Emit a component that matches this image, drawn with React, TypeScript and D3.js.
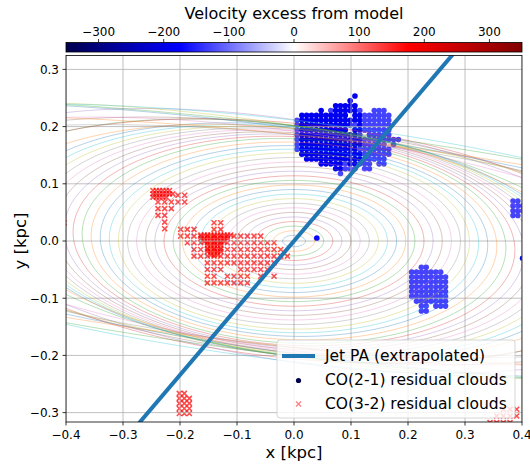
import React from "react";
import * as d3 from "d3";

const W = 530;
const H = 467;
const M = { left: 66, right: 522, top: 55.5, bottom: 422 };

const xTicks = [-0.4, -0.3, -0.2, -0.1, 0, 0.1, 0.2, 0.3, 0.4];
const yTicks = [-0.3, -0.2, -0.1, 0, 0.1, 0.2, 0.3];
const cbarTicks = [-300, -200, -100, 0, 100, 200, 300];

// tilted-ring model: semi-major axis [kpc], axis ratio, position angle [deg]
const ringA = [0.02, 0.036, 0.052, 0.068, 0.084, 0.1, 0.116, 0.132, 0.148, 0.164, 0.18, 0.196, 0.212, 0.228, 0.244, 0.26, 0.276, 0.292, 0.308, 0.324, 0.34, 0.356, 0.372, 0.388, 0.404, 0.42, 0.436, 0.452, 0.468, 0.484, 0.5, 0.53, 0.57, 0.61, 0.66, 0.71, 0.77, 0.83, 0.9, 0.98, 1.06, 1.15, 1.25];
const ringQ = [0.5, 0.5, 0.5, 0.5, 0.5, 0.5, 0.5, 0.5, 0.5, 0.5, 0.5, 0.5, 0.5, 0.5, 0.5, 0.5, 0.5, 0.5, 0.5, 0.495, 0.49, 0.485, 0.48, 0.47, 0.46, 0.45, 0.44, 0.43, 0.42, 0.41, 0.4, 0.368, 0.351, 0.336, 0.318, 0.282, 0.247, 0.223, 0.222, 0.214, 0.184, 0.161, 0.16];
const ringPA = [0, 0, 0, 0, 0, 0, 0, 0, 0, 0, 0, 0, 0, 0, 0, 0, 0, 0, -0.5, -1, -1.5, -2, -2.5, -3, -3.5, -4, -4.5, -5, -5.5, -6, -6.5, -7, -8, -6, -9, -7, -8, -6, -9, -7, -8, -6, -7];

const jetAngle = 49.5; // degrees from +x

// CO(2-1) residual clouds, pixel grids ('B' ~ -190 km/s, 'b' ~ -130 km/s)
const co21Levels: Record<string, number> = { B: -190, b: -130 };
const co21Main = {
  x0: 0.0053, y0: 0.2535, step: 0.00847,
  rows: [
    "............B.........",
    "...........B..........",
    "........BBBBB.........",
    ".....B.bBBBBBb..bbb...",
    ".BBBBBBBBBB.BBbbbbbb..",
    "bBBBBBBBBBBBBBbbbbbb..",
    "bBBBBBBBBBBBbBbbbbbb..",
    "bBBBBBBBBBB.BBbbbbbb..",
    "bBBBBBBBBBBBBb.bbbbb..",
    "bBBBBBBBBBBBBBbbbbbbbb",
    "bBBBBBBBBBBBBBbbbbb.b.",
    "bBBBBBBBBBBBBbbbbbbb..",
    ".BBBBBBBBBBBBBbbbbbb..",
    "..BBBBBBBBBBBBbbbbb...",
    ".....BBBBBbBBbbb.bb...",
    "........BBbbb.bb......",
    ".........b............",
  ],
};
const co21South = {
  x0: 0.2065, y0: -0.046, step: 0.00847,
  rows: ["..bb....", "bbbbbbb.", "bbbbbbbb", "bbbbbbbb", "bbbbbbbb", "bbbbbbbb", "bbbbbbbb", ".bbbbbbb", "..bb.bbb", "..bb...."],
};
const co21Edge = {
  x0: 0.3842, y0: 0.0699, step: 0.00847,
  rows: ["bb.", "bbb", "bbb", "bb."],
};
const co21Single = [
  { x: 0.04, y: 0.005, v: -170 },
  { x: 0.401, y: -0.03, v: -220 },
];

// CO(3-2) residual clouds
const co32Levels: Record<string, number> = { x: 175 };
const co32West = {
  x0: -0.2386, y0: 0.0799, step: 0.0117,
  rows: ["...xx", "xxxxx", "xxx..", "xx...", ".x...", ".x..."],
};
const co32Main = {
  x0: -0.1988, y0: 0.032, step: 0.0117,
  rows: [
    ".....xx..........",
    "xxx..xx..........",
    "xxxxxxxxxxxxx....",
    ".xxxxxxxxxxxxxx..",
    "..xxxxxxxxxxxxxx.",
    "..xxxxxxxxxxxxxxx",
    "....xxxxxxxxxxx..",
    "....xxx..xxxxx...",
    "....xx.xxxx.x.x..",
    "....xxxxxxx......",
  ],
};
const co32BlobWest = {
  x0: -0.2474, y0: 0.0883, step: 0.0058,
  rows: ["xxxxxx.", "xxxxxxx", "xxxxx.."],
};
const co32BlobMain = {
  x0: -0.1632, y0: 0.0105, step: 0.0058,
  rows: ["xxxxxxxxxx", "xxxxxxxxx.", ".xxxxxxx..", "..xxxxx...", "..xxxxx...", "..xxxxx...", "...xxx...."],
};
const co32South = {
  x0: -0.2012, y0: -0.2663, step: 0.0088,
  rows: ["xx.", "xxx", "xxx", "xxx", "xxx"],
};
const co32East = {
  x0: 0.3439, y0: -0.2942, step: 0.0117,
  rows: ["..xxx", ".xxxx", "xxxx."],
};
const co32Single = [{ x: -0.403, y: 0.032, v: 175 }];

type Cluster = { x0: number; y0: number; step: number; rows: string[] };
type Pt = { x: number; y: number; v: number };

function cells(c: Cluster, levels: Record<string, number>): Pt[] {
  const out: Pt[] = [];
  c.rows.forEach((row, j) => {
    row.split("").forEach((ch, i) => {
      if (levels[ch] !== undefined) out.push({ x: c.x0 + i * c.step, y: c.y0 - j * c.step, v: levels[ch] });
    });
  });
  return out;
}

const tab10 = d3.schemeCategory10;
const font = "DejaVu Sans, sans-serif";
const fmt = (v: number) => (v < 0 ? "\u2212" : "") + Math.abs(v).toFixed(1);
const fmtInt = (v: number) => (v < 0 ? "\u2212" : "") + Math.abs(v);

export default function App() {
  const x = d3.scaleLinear().domain([-0.4, 0.4]).range([M.left, M.right]);
  const y = d3.scaleLinear().domain([-0.3164, 0.3243]).range([M.bottom, M.top]);
  const cx = d3.scaleLinear().domain([-350, 350]).range([M.left, M.right]);
  const seismic = d3
    .scaleLinear<string>()
    .domain([-350, -175, 0, 175, 350])
    .range(["#00004d", "#0000ff", "#ffffff", "#ff0000", "#800000"])
    .clamp(true);

  const theta = d3.range(0, 361, 2).map((d) => (d * Math.PI) / 180);
  const ringPath = (a: number, q: number, pa: number) => {
    const t = (pa * Math.PI) / 180;
    return d3
      .line<number>()
      .x((th) => x(a * Math.cos(th) * Math.cos(t) - a * q * Math.sin(th) * Math.sin(t)))
      .y((th) => y(a * Math.cos(th) * Math.sin(t) + a * q * Math.sin(th) * Math.cos(t)))(theta);
  };

  const blue = [
    ...cells(co21Main, co21Levels),
    ...cells(co21South, co21Levels),
    ...cells(co21Edge, co21Levels),
    ...co21Single,
  ];
  const red = [
    ...cells(co32West, co32Levels),
    ...cells(co32Main, co32Levels),
    ...cells(co32BlobWest, co32Levels),
    ...cells(co32BlobMain, co32Levels),
    ...cells(co32South, co32Levels),
    ...cells(co32East, co32Levels),
    ...co32Single,
  ];

  const ja = (jetAngle * Math.PI) / 180;
  const jetLen = 0.6;
  const xs = 2.5;
  const xMark = `M${-xs},${-xs}L${xs},${xs}M${-xs},${xs}L${xs},${-xs}`;

  return (
    <svg width={W} height={H} style={{ position: "absolute", left: 0, top: 0 }} fontFamily={font}>
      <defs>
        <clipPath id="plot">
          <rect x={M.left} y={M.top} width={M.right - M.left} height={M.bottom - M.top} />
        </clipPath>
        <linearGradient id="cmap" x1="0" x2="1" y1="0" y2="0">
          {[-350, -175, 0, 175, 350].map((v, i) => (
            <stop key={i} offset={`${i * 25}%`} stopColor={seismic(v)} />
          ))}
        </linearGradient>
      </defs>
      <rect width={W} height={H} fill="#fff" />

      {/* colorbar */}
      <text x={(M.left + M.right) / 2} y={18.5} fontSize={16} textAnchor="middle" fill="#000">
        Velocity excess from model
      </text>
      <rect x={M.left} y={42.5} width={M.right - M.left} height={9.5} fill="url(#cmap)" stroke="#000" strokeWidth={0.8} />
      {cbarTicks.map((t) => (
        <g key={t}>
          <line x1={cx(t)} x2={cx(t)} y1={42.5} y2={39} stroke="#000" strokeWidth={0.8} />
          <text x={cx(t)} y={36} fontSize={12} textAnchor="middle" fill="#000">
            {fmtInt(t)}
          </text>
        </g>
      ))}

      <g clipPath="url(#plot)">
        {blue.map((p, i) => (
          <circle key={i} cx={x(p.x)} cy={y(p.y)} r={2.8} fill={seismic(p.v)} />
        ))}
        {red.map((p, i) => (
          <path key={i} d={xMark} transform={`translate(${x(p.x)},${y(p.y)})`} stroke={seismic(p.v)} strokeOpacity={0.7} strokeWidth={1.6} fill="none" />
        ))}
        {xTicks.map((t) => (
          <line key={t} x1={x(t)} x2={x(t)} y1={M.top} y2={M.bottom} stroke="#b0b0b0" strokeWidth={0.8} />
        ))}
        {yTicks.map((t) => (
          <line key={t} x1={M.left} x2={M.right} y1={y(t)} y2={y(t)} stroke="#b0b0b0" strokeWidth={0.8} />
        ))}
        {ringA.map((a, i) => (
          <path key={i} d={ringPath(a, ringQ[i], ringPA[i]) || ""} fill="none" stroke={tab10[i % 10]} strokeOpacity={0.33} strokeWidth={1} />
        ))}
        <line
          x1={x(-jetLen * Math.cos(ja))}
          y1={y(-jetLen * Math.sin(ja))}
          x2={x(jetLen * Math.cos(ja))}
          y2={y(jetLen * Math.sin(ja))}
          stroke="#1f77b4"
          strokeWidth={4}
        />
      </g>

      {/* legend */}
      <g>
        <rect x={277} y={340} width={238} height={78} rx={3} fill="#fff" fillOpacity={0.8} stroke="#cccccc" strokeWidth={0.8} />
        <line x1={282} x2={315} y1={356} y2={356} stroke="#1f77b4" strokeWidth={4} />
        <text x={325} y={360.5} fontSize={15.5} fill="#000">Jet PA (extrapolated)</text>
        <circle cx={298.5} cy={380.5} r={2.6} fill="#00004d" />
        <text x={325} y={385} fontSize={15.5} fill="#000">CO(2-1) residual clouds</text>
        <path d={xMark} transform="translate(298.5,404)" stroke="#ff0000" strokeOpacity={0.5} strokeWidth={1.3} fill="none" />
        <text x={325} y={408.5} fontSize={15.5} fill="#000">CO(3-2) residual clouds</text>
      </g>

      {/* frame and axes */}
      <rect x={M.left} y={M.top} width={M.right - M.left} height={M.bottom - M.top} fill="none" stroke="#000" strokeWidth={0.8} />
      {xTicks.map((t) => (
        <g key={t}>
          <line x1={x(t)} x2={x(t)} y1={M.bottom} y2={M.bottom + 3.5} stroke="#000" strokeWidth={0.8} />
          <text x={x(t)} y={439} fontSize={12} textAnchor="middle" fill="#000">
            {fmt(t)}
          </text>
        </g>
      ))}
      {yTicks.map((t) => (
        <g key={t}>
          <line x1={M.left - 3.5} x2={M.left} y1={y(t)} y2={y(t)} stroke="#000" strokeWidth={0.8} />
          <text x={59} y={y(t) + 4.3} fontSize={12} textAnchor="end" fill="#000">
            {fmt(t)}
          </text>
        </g>
      ))}
      <text x={(M.left + M.right) / 2} y={458} fontSize={16.5} textAnchor="middle" fill="#000">
        x [kpc]
      </text>
      <text transform={`translate(26,${y(0)}) rotate(-90)`} fontSize={16.5} textAnchor="middle" fill="#000">
        y [kpc]
      </text>
    </svg>
  );
}
